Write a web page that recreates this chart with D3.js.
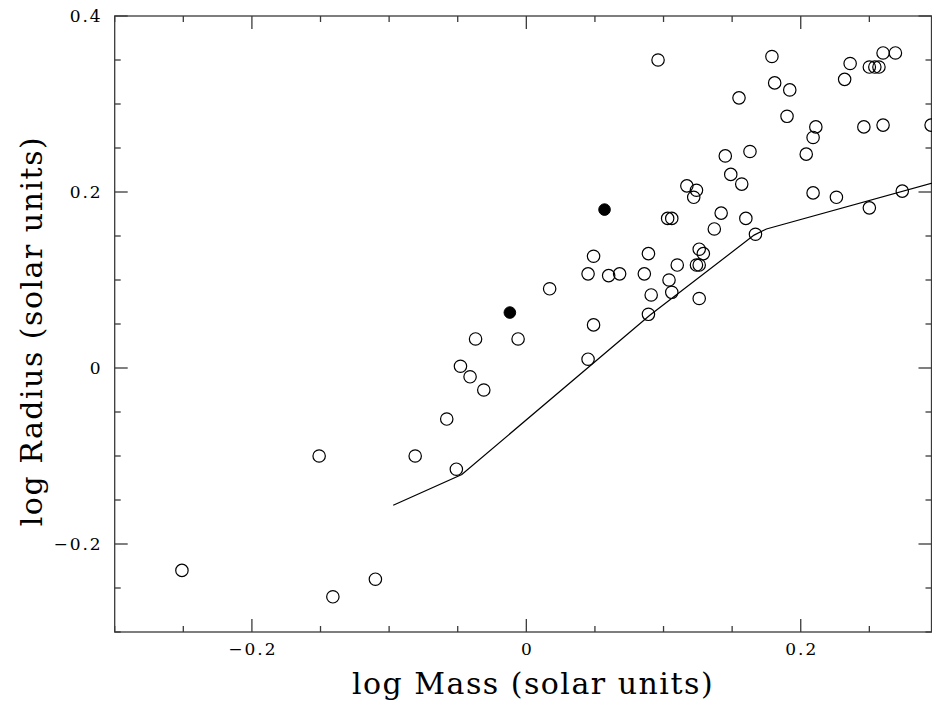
<!DOCTYPE html>
<html>
<head>
<meta charset="utf-8">
<script src="https://cdn.jsdelivr.net/npm/d3@7"></script>
<style>
  html, body { margin: 0; padding: 0; background: #fff; }
  svg { display: block; }
  text { font-family: "DejaVu Serif", "Liberation Serif", serif; fill: #000; }
</style>
</head>
<body>
<svg id="chart" width="932" height="702"></svg>
<script>
// ---- data (log solar units) ----
const openMass = [-0.251,-0.141,-0.110,-0.151,-0.081,-0.051,-0.058,-0.031,-0.041,-0.048,
  -0.037,-0.006,0.017,0.045,0.049,0.049,0.045,0.060,0.068,0.086,
  0.089,0.089,0.091,0.104,0.106,0.110,0.124,0.126,0.126,0.129,
  0.126,0.137,0.142,0.103,0.106,0.160,0.167,0.117,0.124,0.122,
  0.149,0.157,0.145,0.163,0.155,0.096,0.179,0.181,0.192,0.190,
  0.204,0.211,0.209,0.209,0.226,0.250,0.274,0.246,0.260,0.295,
  0.232,0.236,0.250,0.254,0.257,0.260,0.269];
const openRadius = [-0.230,-0.260,-0.240,-0.100,-0.100,-0.115,-0.058,-0.025,-0.010,0.002,
  0.033,0.033,0.090,0.010,0.049,0.127,0.107,0.105,0.107,0.107,
  0.130,0.061,0.083,0.100,0.086,0.117,0.117,0.117,0.135,0.130,
  0.079,0.158,0.176,0.170,0.170,0.170,0.152,0.207,0.202,0.194,
  0.220,0.209,0.241,0.246,0.307,0.350,0.354,0.324,0.316,0.286,
  0.243,0.274,0.262,0.199,0.194,0.182,0.201,0.274,0.276,0.276,
  0.328,0.346,0.342,0.342,0.342,0.358,0.358];
const filledMass = [-0.012, 0.057];
const filledRadius = [0.063, 0.180];
const lineMass = [-0.097, -0.047, 0.090, 0.166, 0.175, 0.300];
const lineRadius = [-0.156, -0.121, 0.060, 0.151, 0.158, 0.212];
const xMajorTicks = [-0.2, 0, 0.2];
const xTickLabels = ["\u22120.2", "0", "0.2"];
const yMajorTicks = [-0.2, 0, 0.2, 0.4];
const yTickLabels = ["\u22120.2", "0", "0.2", "0.4"];
const xLabel = "log Mass (solar units)";
const yLabel = "log Radius (solar units)";

// ---- layout ----
const pLeft = 114.7, pRight = 931.5, pTop = 16, pBottom = 632;
const xDomain = [-0.3, 0.2953];
const yDomain = [-0.3, 0.4];
const x = d3.scaleLinear().domain(xDomain).range([pLeft, pRight]);
const y = d3.scaleLinear().domain(yDomain).range([pBottom, pTop]);

const svg = d3.select("#chart");
const axisColor = "#3a3a3a";

svg.append("clipPath").attr("id", "plotclip")
  .append("rect").attr("x", pLeft).attr("y", pTop)
  .attr("width", pRight - pLeft + 4).attr("height", pBottom - pTop);

// minor ticks every 0.05
const xMinor = d3.range(-6, 7).map(i => +(i * 0.05).toFixed(2)).filter(v => v >= xDomain[0] - 1e-9 && v <= xDomain[1]);
const yMinor = d3.range(-6, 9).map(i => +(i * 0.05).toFixed(2)).filter(v => v >= yDomain[0] - 1e-9 && v <= yDomain[1] + 1e-9);
const isMajor = (v, arr) => arr.some(m => Math.abs(m - v) < 1e-9);
const majLen = 13, minLen = 6;

const axes = svg.append("g").attr("stroke", axisColor).attr("stroke-width", 1.3).attr("fill", "none");
axes.append("rect").attr("x", pLeft).attr("y", pTop).attr("width", pRight - pLeft).attr("height", pBottom - pTop);

// x ticks (bottom & top, inward)
xMinor.forEach(v => {
  const L = isMajor(v, xMajorTicks) ? majLen : minLen;
  axes.append("line").attr("x1", x(v)).attr("x2", x(v)).attr("y1", pBottom).attr("y2", pBottom - L);
  axes.append("line").attr("x1", x(v)).attr("x2", x(v)).attr("y1", pTop).attr("y2", pTop + L);
});
// y ticks (left & right, inward)
yMinor.forEach(v => {
  const L = isMajor(v, yMajorTicks) ? majLen : minLen;
  axes.append("line").attr("y1", y(v)).attr("y2", y(v)).attr("x1", pLeft).attr("x2", pLeft + L);
  axes.append("line").attr("y1", y(v)).attr("y2", y(v)).attr("x1", pRight).attr("x2", pRight - L);
});

// tick labels
svg.append("g").selectAll("text").data(xMajorTicks).join("text")
  .attr("x", d => x(d) + 1).attr("y", pBottom + 23)
  .attr("text-anchor", "middle").attr("font-size", 17).attr("letter-spacing", 2)
  .text((d, i) => xTickLabels[i]);
svg.append("g").selectAll("text").data(yMajorTicks).join("text")
  .attr("x", pLeft - 12).attr("y", d => y(d) + 6)
  .attr("text-anchor", "end").attr("font-size", 17).attr("letter-spacing", 2)
  .text((d, i) => yTickLabels[i]);

// axis titles
svg.append("text").attr("x", 533).attr("y", 694)
  .attr("text-anchor", "middle").attr("font-size", 30).attr("letter-spacing", 1.5).text(xLabel);
svg.append("text").attr("transform", `translate(42, 331) rotate(-90)`)
  .attr("text-anchor", "middle").attr("font-size", 30).attr("letter-spacing", 1.5).text(yLabel);

const plot = svg.append("g").attr("clip-path", "url(#plotclip)");

// model line
const linePts = lineMass.map((m, i) => [m, lineRadius[i]]);
plot.append("path").datum(linePts)
  .attr("d", d3.line().x(d => x(d[0])).y(d => y(d[1])))
  .attr("fill", "none").attr("stroke", "#000").attr("stroke-width", 1.2);

// open circles
const openPts = openMass.map((m, i) => [m, openRadius[i]]);
plot.append("g").selectAll("circle").data(openPts).join("circle")
  .attr("cx", d => x(d[0])).attr("cy", d => y(d[1])).attr("r", 6.2)
  .attr("fill", "none").attr("stroke", "#000").attr("stroke-width", 1.2);

// filled points
const filledPts = filledMass.map((m, i) => [m, filledRadius[i]]);
plot.append("g").selectAll("circle").data(filledPts).join("circle")
  .attr("cx", d => x(d[0])).attr("cy", d => y(d[1])).attr("r", 5.8)
  .attr("fill", "#000").attr("stroke", "#000").attr("stroke-width", 1);
</script>
</body>
</html>
